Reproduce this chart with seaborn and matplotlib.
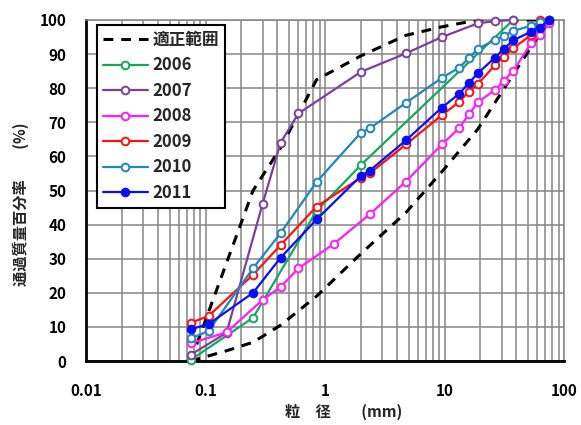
import matplotlib
matplotlib.use("Agg")
import matplotlib.pyplot as plt
import matplotlib.ticker as mticker
import numpy as np
import pandas as pd
import seaborn as sns

# ---------------- data ----------------
range_label = "適正範囲"
upper_x = [0.075, 0.25, 0.425, 0.85, 2.0, 4.75, 9.5, 19.0, 75.0]
upper_y = [0.0, 50.0, 62.5, 82.5, 89.5, 95.5, 98.0, 100.0, 100.0]
lower_x = [0.075, 0.15, 0.25, 0.425, 0.85, 2.0, 4.75, 9.5, 19.0, 37.5, 53.0, 75.0]
lower_y = [0.0, 3.0, 5.5, 10.5, 19.0, 31.5, 43.5, 55.5, 68.0, 84.0, 92.0, 100.0]

x2006 = [0.075, 0.25, 0.85, 2.0, 37.5]
y2006 = [0.3, 12.7, 44.0, 57.5, 100.0]

x2007 = [0.075, 0.15, 0.3, 0.425, 0.6, 2.0, 4.75, 9.5, 19.0, 26.5, 37.5]
y2007 = [1.8, 8.3, 46.0, 64.0, 72.6, 84.8, 90.2, 95.0, 99.0, 99.7, 100.0]

x2008 = [0.075, 0.15, 0.3, 0.425, 0.6, 1.18, 2.36, 4.75, 9.5, 13.2, 16.0, 19.0, 26.5, 31.5, 37.5, 53.0, 63.0, 75.0]
y2008 = [5.2, 8.4, 17.9, 21.7, 27.2, 34.3, 43.0, 52.6, 63.5, 68.2, 72.3, 75.9, 79.5, 82.2, 85.0, 93.2, 95.6, 99.0]

x2009 = [0.075, 0.106, 0.25, 0.425, 0.85, 2.0, 2.36, 4.75, 9.5, 13.2, 16.0, 19.0, 26.5, 31.5, 37.5, 53.0, 63.0, 75.0]
y2009 = [11.2, 13.2, 25.3, 34.0, 45.3, 53.8, 55.0, 63.5, 72.1, 75.9, 79.0, 81.2, 86.8, 89.2, 91.7, 95.6, 100.0, 100.0]

x2010 = [0.075, 0.106, 0.25, 0.425, 0.85, 2.0, 2.36, 4.75, 9.5, 13.2, 16.0, 19.0, 26.5, 31.5, 37.5, 53.0, 63.0, 75.0]
y2010 = [6.6, 8.8, 27.2, 37.5, 52.5, 67.0, 68.2, 75.7, 83.0, 86.0, 88.8, 91.6, 94.1, 95.4, 96.8, 98.3, 99.5, 100.0]

x2011 = [0.075, 0.106, 0.25, 0.425, 0.85, 2.0, 2.36, 4.75, 9.5, 13.2, 16.0, 19.0, 26.5, 31.5, 37.5, 53.0, 63.0, 75.0]
y2011 = [9.3, 10.8, 20.0, 30.3, 41.5, 54.3, 55.8, 64.7, 74.3, 78.3, 81.5, 84.4, 89.0, 91.6, 94.0, 96.6, 97.8, 100.0]

years = ["2006", "2007", "2008", "2009", "2010", "2011"]
colors = ["#13a95a", "#7b3f9e", "#ff1aff", "#ff1010", "#1f86c0", "#0a10f5"]
series_x = [x2006, x2007, x2008, x2009, x2010, x2011]
series_y = [y2006, y2007, y2008, y2009, y2010, y2011]

xticks = [0.01, 0.1, 1, 10, 100]
xtick_labels = ["0.01", "0.1", "1", "10", "100"]
yticks = list(range(0, 101, 10))

# ---------------- style ----------------
sns.set_theme(style="white")
plt.rcParams["font.family"] = ["Noto Sans CJK JP", "DejaVu Sans"]
plt.rcParams["font.weight"] = "bold"

fig = plt.figure(figsize=(5.81, 4.25), dpi=100)
ax = fig.add_axes([86 / 581, 1 - 361 / 425, 478 / 581, 341 / 425])

# envelope
env_df_u = pd.DataFrame({"x": upper_x, "y": upper_y})
env_df_l = pd.DataFrame({"x": lower_x, "y": lower_y})
sns.lineplot(data=env_df_u, x="x", y="y", ax=ax, color="black", lw=2.2,
             linestyle=(0, (3.2, 2.6)), label=range_label, sort=False,
             estimator=None, zorder=3)
sns.lineplot(data=env_df_l, x="x", y="y", ax=ax, color="black", lw=2.2,
             linestyle=(0, (3.2, 2.6)), label="_nolegend_", sort=False,
             estimator=None, zorder=3)

for yr, c, xs, ys in zip(years, colors, series_x, series_y):
    df = pd.DataFrame({"x": xs, "y": ys})
    face = c if yr == "2011" else "white"
    sns.lineplot(data=df, x="x", y="y", ax=ax, color=c, lw=1.6,
                 marker="o", markersize=5.5, markerfacecolor=face,
                 markeredgecolor=c, markeredgewidth=1.4, label=yr,
                 sort=False, estimator=None, clip_on=False, zorder=4)

ax.set_xscale("log")
ax.set_xlim(0.01, 100)
ax.set_ylim(0, 100)
ax.set_xticks(xticks)
ax.set_xticklabels(xtick_labels)
ax.set_yticks(yticks)
ax.xaxis.set_minor_locator(mticker.LogLocator(base=10, subs=np.arange(2, 10), numticks=20))
ax.xaxis.set_minor_formatter(mticker.NullFormatter())
ax.yaxis.set_minor_locator(mticker.MultipleLocator(1))

ax.grid(True, which="major", axis="both", color="#858585", lw=1.1)
ax.grid(True, which="minor", axis="x", color="#858585", lw=1.1)
ax.set_axisbelow(True)

ax.tick_params(axis="both", which="both", direction="in", colors="black",
               labelsize=11, width=1.2)
ax.tick_params(axis="y", which="major", length=6, pad=14)
ax.tick_params(axis="y", which="minor", length=4)
ax.tick_params(axis="x", which="major", length=6, pad=16)
ax.tick_params(axis="x", which="minor", length=4)
for lab in ax.get_xticklabels() + ax.get_yticklabels():
    lab.set_fontweight("bold")

for s in ["left", "bottom"]:
    ax.spines[s].set_color("black")
    ax.spines[s].set_linewidth(2.0)
for s in ["top", "right"]:
    ax.spines[s].set_color("#858585")
    ax.spines[s].set_linewidth(1.1)

ax.set_xlabel("粒　径　　(mm)", fontsize=11, fontweight="bold")
ax.xaxis.set_label_coords(0.54, -0.125)
ax.set_ylabel("通過質量百分率　　(%)", fontsize=11, fontweight="bold")
ax.yaxis.set_label_coords(-0.12, 0.46)

leg = ax.legend(loc="upper left", bbox_to_anchor=(0.023, 0.985), borderaxespad=0,
                frameon=True, fancybox=False, framealpha=1, edgecolor="black",
                handlelength=2.7, handletextpad=0.3, labelspacing=0.45,
                borderpad=0.35, prop={"weight": "bold", "size": 12})
leg.get_frame().set_linewidth(1.5)

fig.savefig("out.png", dpi=100)
